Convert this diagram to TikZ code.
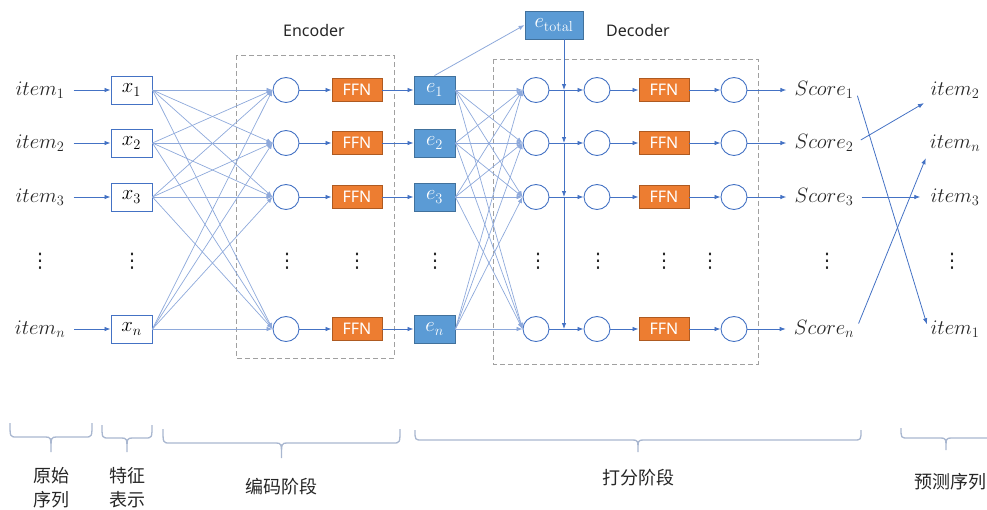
\documentclass[tikz,border=0pt]{standalone}
\usepackage[no-math]{fontspec}
\setmainfont{Noto Sans}
\newfontfamily\cjk{Noto Sans CJK SC}
\newfontfamily\symfont{DejaVu Sans}
\usetikzlibrary{arrows.meta,shapes.geometric}

\definecolor{linkblue}{HTML}{4472C4}
\definecolor{crossblue}{HTML}{8EA9DB}
\definecolor{embfill}{HTML}{5B9BD5}
\definecolor{embdraw}{HTML}{41719C}
\definecolor{ffnfill}{HTML}{ED7D31}
\definecolor{ffndraw}{HTML}{AE5A21}
\definecolor{boxgray}{HTML}{A0A0A0}
\definecolor{bracecol}{HTML}{A9B7D0}
\definecolor{ink}{HTML}{262626}

\begin{document}
\begin{tikzpicture}[x=1pt,y=-1pt,
  tipend/.style={-{Latex[length=6pt,width=4.5pt]}},
  link/.style={draw=linkblue, line width=0.8pt, tipend},
  cross/.style={draw=crossblue, line width=0.7pt, tipend},
  featbox/.style={draw=linkblue, fill=white, line width=0.9pt, minimum width=41pt,
    minimum height=28pt, inner sep=0pt, font=\fontsize{20}{22}\selectfont},
  embbox/.style={draw=embdraw, fill=embfill, line width=0.9pt, minimum width=41pt,
    minimum height=28pt, inner sep=0pt, text=white, font=\fontsize{20}{22}\selectfont},
  ffnbox/.style={draw=ffndraw, fill=ffnfill, line width=0.9pt, minimum width=50pt,
    minimum height=23pt, inner sep=0pt, text=white, font=\fontsize{16}{18}\selectfont},
  neuron/.style={ellipse, draw=linkblue, fill=white, line width=0.9pt,
    minimum width=26pt, minimum height=25pt, inner sep=0pt},
  stagebox/.style={draw=boxgray, line width=1pt, dash pattern=on 5pt off 3pt},
  mathlabel/.style={font=\fontsize{20}{22}\selectfont, inner sep=2pt, text=ink},
  dotsmark/.style={font=\symfont\fontsize{20}{22}\selectfont, text=ink, inner sep=0pt},
  stagebrace/.style={draw=bracecol, line width=1.3pt},
  cjklabel/.style={font=\cjk\fontsize{18}{24}\selectfont, align=center, text=ink},
  title/.style={font=\fontsize{16}{18}\selectfont, text=ink}
]
\useasboundingbox (0,0) rectangle (987,509);

% stage frames
\draw[stagebox] (236,55) rectangle (394,358);
\draw[stagebox] (493,59) rectangle (758,364);
\node[title] (enclabel) at (314,30) {Encoder};
\node[title] (declabel) at (638,30) {Decoder};

% one row per sequence position
\foreach \r/\y/\s in {1/90/1, 2/143/2, 3/197/3, 4/329/n}{
  \node[mathlabel] (in\r) at (40,\y) {$item_{\s}$};
  \node[featbox] (x\r) at (131.5,\y) {$x_{\s}$};
  \node[neuron] (enc\r) at (286,\y) {};
  \node[ffnbox] (effn\r) at (357,\y) {FFN};
  \node[embbox] (e\r) at (434.5,\y) {$e_{\s}$};
  \node[neuron] (da\r) at (536,\y) {};
  \node[neuron] (db\r) at (597,\y) {};
  \node[ffnbox] (dffn\r) at (664,\y) {FFN};
  \node[neuron] (dc\r) at (734,\y) {};
  \node[mathlabel] (sc\r) at (824,\y) {$Score_{\s}$};
  \coordinate (j\r) at (564,\y);
}

% predicted order
\node[mathlabel] (out1) at (955,90) {$item_{2}$};
\node[mathlabel] (out2) at (955,143) {$item_{n}$};
\node[mathlabel] (out3) at (955,197) {$item_{3}$};
\node[mathlabel] (out4) at (955,329) {$item_{1}$};

\node[embbox, minimum width=58pt] (etot) at (554,25) {$e_{\mathrm{total}}$};

% fully connected links
\foreach \a in {1,2,3,4}{
  \foreach \b in {1,2,3,4}{
    \draw[cross] (x\a.east) -- (enc\b.west);
    \draw[cross] (e\a.east) -- (da\b.west);
  }
}

% straight row links
\foreach \r in {1,2,3,4}{
  \draw[link, shorten <=7pt] (in\r.east) -- (x\r.west);
  \draw[link] (enc\r.east) -- (effn\r.west);
  \draw[link] (effn\r.east) -- (e\r.west);
  \draw[link] (da\r.east) -- (db\r.west);
  \draw[link] (db\r.east) -- (dffn\r.west);
  \draw[link] (dffn\r.east) -- (dc\r.west);
  \draw[link, shorten >=6pt] (dc\r.east) -- (sc\r.west);
}

% global embedding
\draw[link, draw=crossblue] (e1.north) -- (etot.west);
\draw[link] ([xshift=10pt]etot.south) -- (j1);
\draw[link] (j1) -- (j2);
\draw[link] (j2) -- (j3);
\draw[link] (j3) -- (j4);

% reordering by score
\draw[link, shorten <=6pt, shorten >=5pt] (sc1.east) -- (out4.west);
\draw[link, shorten <=6pt, shorten >=5pt] (sc2.east) -- (out1.south west);
\draw[link, shorten <=6pt, shorten >=8pt] (sc3.east) -- (out3.west);
\draw[link, shorten <=6pt, shorten >=5pt] (sc4.east) -- (out2.south west);

% ellipsis marks
\foreach \x in {40,132,287,357,435,538,598,664,710,827,952}{
  \node[dotsmark] at (\x,261) {⋮};
}

% stage braces: left end, right end, top, middle line, tip
\foreach \a/\b/\t/\m/\p in {10/92/423/437/452, 102/152/425/438/452,
    163/400/429/443/458, 415/861/430/440/452, 901/991/428/438/450}{
  \pgfmathsetmacro{\c}{(\a+\b)/2}
  \draw[stagebrace] (\a,\t) .. controls (\a,\m) .. ({\a+7},\m)
    -- ({\c-6},\m) .. controls (\c,\m) .. (\c,\p)
    .. controls (\c,\m) .. ({\c+6},\m)
    -- ({\b-7},\m) .. controls (\b,\m) .. (\b,\t);
}

\node[cjklabel] (lab1) at (51,488) {原始\\序列};
\node[cjklabel] (lab2) at (127,488) {特征\\表示};
\node[cjklabel] (lab3) at (281,487) {编码阶段};
\node[cjklabel] (lab4) at (638,478) {打分阶段};
\node[cjklabel] (lab5) at (950,482) {预测序列};
\end{tikzpicture}
\end{document}
